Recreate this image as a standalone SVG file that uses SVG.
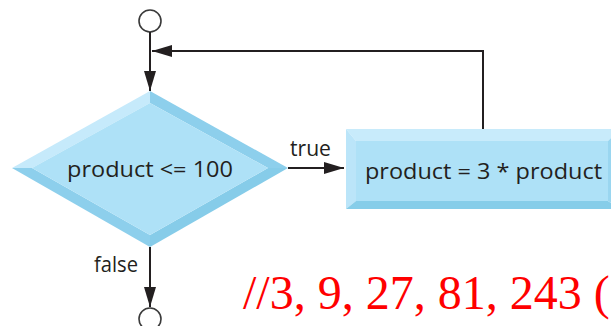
<svg xmlns="http://www.w3.org/2000/svg" width="611" height="326" viewBox="0 0 611 326">
  <style>
    .lbl { font-family: "Open Sans", "Noto Sans", sans-serif; font-size: 21px; fill: #231f20; }
    .wire { stroke: #231f20; stroke-width: 2; fill: none; }
    .term { fill: #ffffff; stroke: #3a3a3a; stroke-width: 1.6; }
    .note { font-family: "Liberation Serif", "Times New Roman", serif; font-size: 48px; fill: #ff0000; }
  </style>
  <defs>
    <marker id="arrow" viewBox="0 0 20 12" refX="20" refY="6" markerWidth="20" markerHeight="12" markerUnits="userSpaceOnUse" orient="auto">
      <path d="M0,0 L20,6 L0,12 Z" fill="#231f20"/>
    </marker>
  </defs>

  <rect width="611" height="326" fill="#ffffff"/>

  <!-- start terminal -->
  <g id="start">
    <circle class="term" cx="150" cy="21" r="11"/>
  </g>

  <!-- decision: product <= 100 -->
  <g id="decision">
    <polygon points="150,91 12,168 32,168 150,103" fill="#c6eafb"/>
    <polygon points="150,91 288,168 268,168 150,103" fill="#8dcfec"/>
    <polygon points="12,168 150,247 150,235 32,168" fill="#8dcfec"/>
    <polygon points="288,168 150,247 150,235 268,168" fill="#86cce9"/>
    <polygon points="150,103 268,168 150,235 32,168" fill="#aee1f7"/>
    <text class="lbl" x="67" y="177" textLength="166" lengthAdjust="spacingAndGlyphs">product &lt;= 100</text>
  </g>

  <!-- action: product = 3 * product -->
  <g id="action">
    <polygon points="346,129 620,129 608,141 356,141" fill="#c8ebfb"/>
    <polygon points="346,129 356,141 356,201 346,209" fill="#bbe5f9"/>
    <polygon points="346,209 356,201 608,201 620,209" fill="#86cde9"/>
    <polygon points="608,141 620,129 620,209 608,201" fill="#9ad6f0"/>
    <rect x="356" y="141" width="252" height="60" fill="#aee1f7"/>
    <text class="lbl" x="365" y="179" textLength="237" lengthAdjust="spacingAndGlyphs">product = 3 * product</text>
  </g>

  <!-- end terminal -->
  <g id="end">
    <circle class="term" cx="150" cy="319" r="11"/>
  </g>

  <!-- connectors -->
  <g id="connectors">
    <line class="wire" x1="150" y1="32" x2="150" y2="91" marker-end="url(#arrow)"/>
    <polyline class="wire" points="483,129 483,51 152,51" marker-end="url(#arrow)"/>
    <line class="wire" x1="288" y1="168" x2="344" y2="168" marker-end="url(#arrow)"/>
    <line class="wire" x1="150" y1="247" x2="150" y2="307" marker-end="url(#arrow)"/>
    <text class="lbl" x="290" y="156" textLength="41" lengthAdjust="spacingAndGlyphs">true</text>
    <text class="lbl" x="94" y="271.5" textLength="44" lengthAdjust="spacingAndGlyphs">false</text>
  </g>

  <text class="note" x="243" y="309">//3, 9, 27, 81, 243 (</text>
</svg>
